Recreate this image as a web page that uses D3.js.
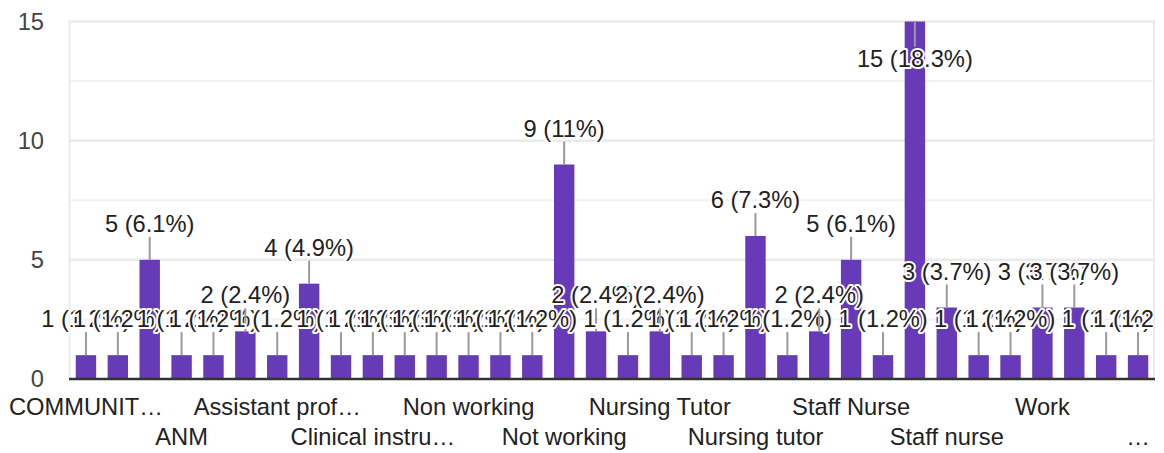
<!DOCTYPE html>
<html>
<head>
<meta charset="utf-8">
<script src="https://cdn.jsdelivr.net/npm/d3@7"></script>
<style>
  html, body { margin: 0; padding: 0; background: #fff; }
  svg { display: block; font-family: Arial, "Liberation Sans", sans-serif; }
</style>
</head>
<body>
<svg id="chart"></svg>
<script>
// response counts per category, in chart order
const counts = [1, 1, 5, 1, 1, 2, 1, 4, 1, 1, 1, 1, 1, 1, 1, 9, 2, 1, 2, 1, 1, 6, 1, 2, 5, 1, 15, 3, 1, 1, 3, 3, 1, 1];
// only every third category label is shown on the axis
const tickLabels = ["COMMUNIT…", "ANM", "Assistant prof…", "Clinical instru…", "Non working", "Not working",
  "Nursing Tutor", "Nursing tutor", "Staff Nurse", "Staff nurse", "Work", "…"];
const yTicks = [0, 5, 10, 15];
const yMinorTicks = [2.5, 7.5, 12.5];

const W = 1164, H = 453;
const plot = { left: 70, right: 1154, top: 21.5, bottom: 379 };
const fontSize = 23.7;

const svg = d3.select("#chart").attr("width", W).attr("height", H);

const total = d3.sum(counts);
const pct = d3.format(".1~f");

const x = d3.scaleBand()
  .domain(d3.range(counts.length))
  .range([plot.left, plot.right])
  .paddingInner(0.36)
  .paddingOuter(0.18);

const y = d3.scaleLinear().domain([0, 15]).range([plot.bottom, plot.top]);

// gridlines
svg.append("g")
  .selectAll("line")
  .data(yMinorTicks)
  .enter()
  .append("line")
  .attr("x1", plot.left).attr("x2", plot.right)
  .attr("y1", d => y(d)).attr("y2", d => y(d))
  .attr("stroke", "#f2f2f2")
  .attr("stroke-width", 2);

svg.append("g")
  .selectAll("line")
  .data(yTicks.slice(1))
  .enter()
  .append("line")
  .attr("x1", plot.left).attr("x2", plot.right)
  .attr("y1", d => y(d)).attr("y2", d => y(d))
  .attr("stroke", "#ebebeb")
  .attr("stroke-width", 2.5);

svg.append("g")
  .selectAll("line")
  .data([plot.left - 0.5, plot.right])
  .enter()
  .append("line")
  .attr("x1", d => d).attr("x2", d => d)
  .attr("y1", y(15) - 1).attr("y2", plot.bottom)
  .attr("stroke", "#ebebeb")
  .attr("stroke-width", 2);

// bars
svg.append("g")
  .selectAll("rect")
  .data(counts)
  .enter()
  .append("rect")
  .attr("x", (d, i) => x(i))
  .attr("y", d => y(d))
  .attr("width", x.bandwidth())
  .attr("height", d => y(0) - y(d))
  .attr("fill", "#673ab7");

// baseline
svg.append("line")
  .attr("x1", plot.left - 1).attr("x2", plot.right + 1)
  .attr("y1", y(0)).attr("y2", y(0))
  .attr("stroke", "#333")
  .attr("stroke-width", 2.5);

// y axis
const yAxis = svg.append("g")
  .attr("transform", `translate(${plot.left},0)`)
  .call(d3.axisLeft(y).tickValues(yTicks).tickSize(0).tickPadding(26));
yAxis.select(".domain").remove();
yAxis.selectAll("text")
  .attr("font-size", fontSize)
  .attr("font-family", null)
  .attr("fill", "#444");

// x axis, labels on two alternating rows
const xAxis = svg.append("g")
  .attr("transform", `translate(0,${plot.bottom})`)
  .call(d3.axisBottom(x)
    .tickValues(d3.range(0, counts.length, 3))
    .tickFormat((d, i) => tickLabels[i])
    .tickSize(0));
xAxis.select(".domain").remove();
xAxis.selectAll("text")
  .attr("font-size", fontSize)
  .attr("font-family", null)
  .attr("fill", "#222")
  .attr("dy", null)
  .attr("y", (d, i) => (i % 2 === 0 ? 36 : 66));

// data labels with leader lines, clipped at the right edge of the plot
svg.append("clipPath")
  .attr("id", "clip")
  .append("rect")
  .attr("x", 0).attr("y", 0)
  .attr("width", plot.right).attr("height", H);

const labels = svg.append("g").attr("clip-path", "url(#clip)");

counts.forEach((d, i) => {
  const cx = x(i) + x.bandwidth() / 2;
  const barTop = y(d);
  const inside = barTop - 50 < 0;
  labels.append("line")
    .attr("x1", cx).attr("x2", cx)
    .attr("y1", barTop)
    .attr("y2", inside ? barTop + 25 : barTop - 23)
    .attr("stroke", "#999")
    .attr("stroke-width", 2);
  labels.append("text")
    .attr("x", cx)
    .attr("y", inside ? barTop + 45 : barTop - 28)
    .attr("text-anchor", "middle")
    .attr("font-size", fontSize)
    .attr("fill", "#222")
    .attr("stroke", "#fff")
    .attr("stroke-width", 4)
    .attr("stroke-linejoin", "round")
    .attr("paint-order", "stroke")
    .text(`${d} (${pct(d / total * 100)}%)`);
});
</script>
</body>
</html>
